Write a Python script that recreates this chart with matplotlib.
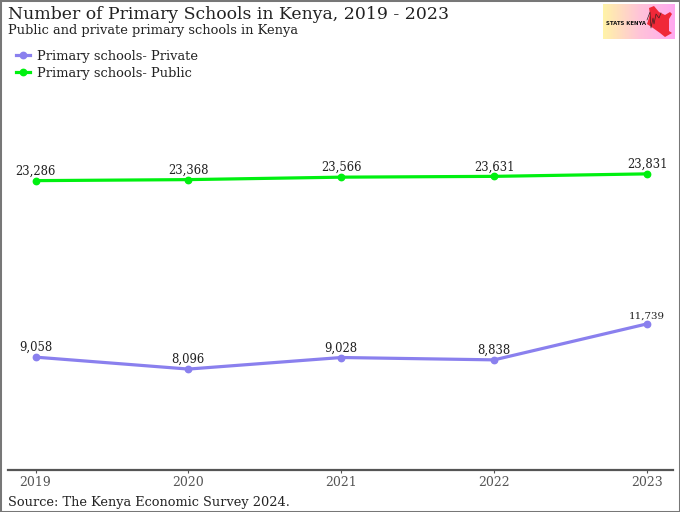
import numpy as np
import matplotlib
matplotlib.use("Agg")
import matplotlib.pyplot as plt
from matplotlib.patches import Polygon, Rectangle

years = [2019, 2020, 2021, 2022, 2023]
private = [9058, 8096, 9028, 8838, 11739]
public = [23286, 23368, 23566, 23631, 23831]
private_name = "Primary schools- Private"
public_name = "Primary schools- Public"
title = "Number of Primary Schools in Kenya, 2019 - 2023"
subtitle = "Public and private primary schools in Kenya"
source = "Source: The Kenya Economic Survey 2024."

plt.rcParams["font.family"] = ["DejaVu Serif"]
W, H = 680, 512
fig = plt.figure(figsize=(W / 100, H / 100), dpi=100, facecolor="white")
fig.add_artist(Rectangle((0, 0), 1, 1, transform=fig.transFigure, fill=False,
                         edgecolor="#777777", linewidth=2.2))

ax = fig.add_axes([8 / W, 1 - 469.5 / H, 665 / W, 429 / H])
ax.patch.set_alpha(0)
ppx = 611.5 / 4
ax.set_xlim(2019 - 27.5 / ppx, 2019 - 27.5 / ppx + 665 / ppx)
ppy = 176.5 / (23286 - 9058)
ax.set_ylim(0, 429 / ppy)

purple, green = "#8A80EE", "#00F010"
ax.plot(years, private, color=purple, lw=2.3, marker="o", ms=4.6, label=private_name)
ax.plot(years, public, color=green, lw=2.3, marker="o", ms=4.6, label=public_name)

for xs, ys in ((years, private), (years, public)):
    for x, y in zip(xs, ys):
        ax.annotate(f"{y:,}", (x, y), xytext=(0, 2.2), textcoords="offset points",
                    ha="center", va="bottom", fontsize=7.4 if y == 11739 else 8.4, color="#222222")

for s in ("top", "left", "right"):
    ax.spines[s].set_visible(False)
ax.spines["bottom"].set_color("#555555")
ax.spines["bottom"].set_linewidth(1.6)
ax.set_yticks([])
ax.set_xticks(years)
ax.set_xticklabels([str(y) for y in years], fontsize=9, color="#555555")
ax.tick_params(axis="x", length=2, width=0.8, color="#555555", pad=3)

fig.text(8 / W, 1 - 19 / H, title, fontsize=12.4, color="#222222", va="baseline")
fig.text(8 / W, 1 - 34 / H, subtitle, fontsize=9.35, color="#222222", va="baseline")
fig.text(8 / W, 1 - 506 / H, source, fontsize=9.3, color="#222222", va="baseline")

leg = ax.legend(loc="upper left", bbox_to_anchor=(16 / W, 1 - 50 / H), bbox_transform=fig.transFigure,
                frameon=False, fontsize=9.4, handlelength=1.07, handletextpad=0.54,
                labelspacing=0.27, borderaxespad=0, borderpad=0, labelcolor="#222222")
for h in leg.legend_handles:
    h.set_markersize(4.6)

# logo
logo = fig.add_axes([603 / W, 1 - 39 / H, 72 / W, 35 / H])
logo.imshow(np.linspace(0, 1, 64).reshape(1, -1), aspect="auto", extent=(0, 72, 35, 0),
            cmap=matplotlib.colors.LinearSegmentedColormap.from_list("g", ["#FFF3A8", "#FFC4D8", "#FFA8F0"]))
logo.axis("off")
logo.add_patch(Polygon([(45, 17), (47, 10), (46, 4), (51, 2), (56, 8), (62, 11), (67, 8), (69, 10), (66, 15), (66, 27),
                        (69, 29), (62, 33), (57, 29), (50, 24), (44, 20)], closed=True, facecolor="#F02838", edgecolor="none"))
logo.plot([44, 47, 48, 50, 51, 53, 56, 58], [16, 8, 24, 14, 20, 10, 14, 9], color="#442222", lw=0.5)
logo.text(3.5, 19.5, "STATS KENYA", fontsize=3.9, fontweight="bold", family="DejaVu Sans",
          va="center", ha="left", color="#111111")

fig.savefig("out.png", dpi=100)
